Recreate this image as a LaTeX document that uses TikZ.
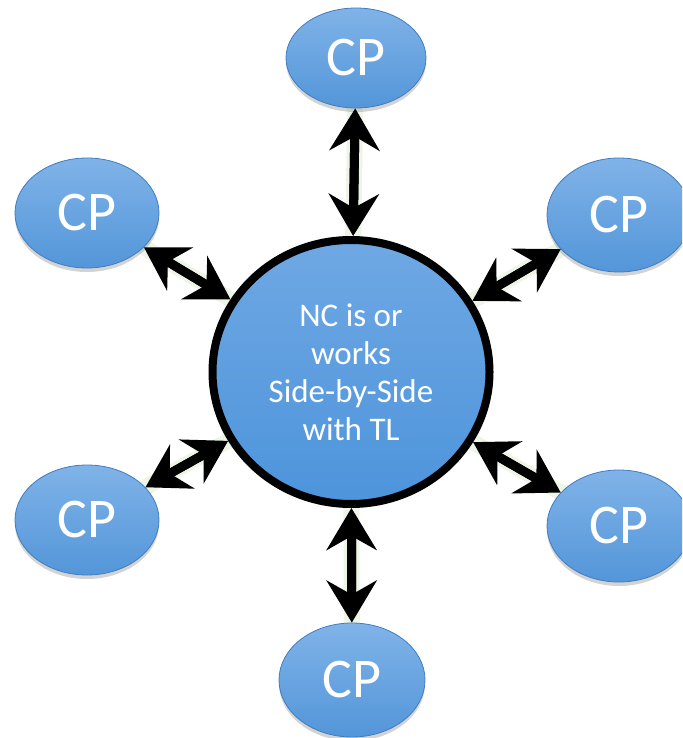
\documentclass[tikz,border=0pt]{standalone}
\usepackage{fontspec}
\setmainfont{Carlito}
\usetikzlibrary{arrows.meta,shadows,shapes.geometric}
\definecolor{cpTop}{HTML}{80B3E8}
\definecolor{cpBot}{HTML}{5396D9}
\definecolor{cpEdge}{HTML}{3F7DC2}
\definecolor{hubTop}{HTML}{6FA8E4}
\definecolor{hubBot}{HTML}{4D94DB}
\definecolor{glow}{HTML}{EDF6E6}
\begin{document}
\begin{tikzpicture}[x=1pt,y=-1pt,
  >={Stealth[length=42pt,width=50pt,inset=14pt]},
  cp/.style={ellipse, inner sep=0pt, top color=cpTop, bottom color=cpBot,
    draw=cpEdge, line width=0.8pt, text=white,
    font=\fontsize{56}{60}\selectfont,
    drop shadow={opacity=0.35, shadow xshift=0pt, shadow yshift=-4pt}},
  hub/.style={ellipse, minimum width=277pt, minimum height=264pt, inner sep=0pt,
    top color=hubTop, bottom color=hubBot, draw=black, line width=8pt,
    text=white, align=center, font=\fontsize{33}{38}\selectfont},
  link/.style={draw=black, line width=9pt, <->},
  shaft/.style={draw=black, line width=9pt, shorten >=24pt, shorten <=24pt},
  halo/.style={line width=16pt, draw=glow}]
\useasboundingbox (0,0) rectangle (682,738);
\clip (0,0) rectangle (682,738);
\coordinate (pc) at (351,372);
\coordinate (pt) at (356,58);
\coordinate (plt) at (87,213);
\coordinate (prt) at (619,215);
\coordinate (plb) at (87,520);
\coordinate (prb) at (619,526);
\coordinate (pb) at (352,680);
\foreach \n in {pt,plt,prt,plb,prb,pb}
  \draw[halo] (pc) -- (\n);
\node[hub] (c) at (pc) {NC is or\\works\\Side-by-Side\\with TL};
\node[cp, minimum width=140pt, minimum height=100pt] (t)  at (pt)  {CP};
\node[cp, minimum width=144pt, minimum height=110pt] (lt) at (plt) {CP};
\node[cp, minimum width=144pt, minimum height=114pt] (rt) at (prt) {CP};
\node[cp, minimum width=144pt, minimum height=110pt] (lb) at (plb) {CP};
\node[cp, minimum width=144pt, minimum height=112pt] (rb) at (prb) {CP};
\node[cp, minimum width=146pt, minimum height=114pt] (b)  at (pb)  {CP};
\foreach \n in {t,lt,rt,lb,rb,b}{
  \draw[link] (c) -- (\n);
  \draw[shaft] (c) -- (\n);
}
\end{tikzpicture}
\end{document}
